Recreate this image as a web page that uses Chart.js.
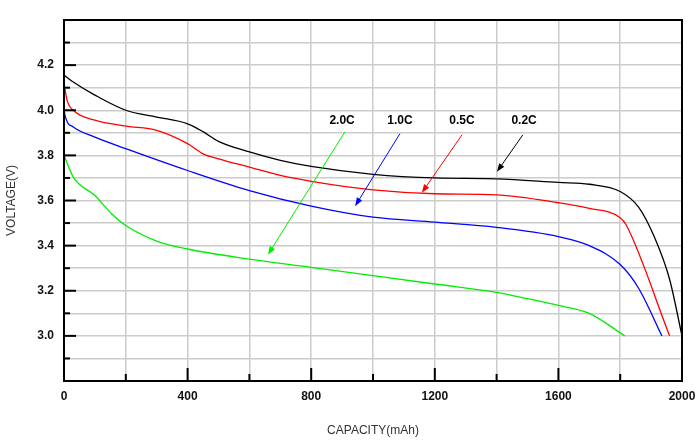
<!DOCTYPE html>
<html>
<head>
<meta charset="utf-8">
<script src="https://cdn.jsdelivr.net/npm/chart.js@4.4.1/dist/chart.umd.min.js"></script>
<style>
  html, body { margin: 0; padding: 0; background: #fff; }
  #wrap { width: 700px; height: 442px; }
</style>
</head>
<body>
<div id="wrap"><canvas id="dischargeChart"></canvas></div>
<script>
// discharge curves, capacity (mAh) vs voltage (V)
const cap02 = [0, 30, 100, 200, 300, 400, 450, 500, 600, 700, 800, 1000, 1200, 1400, 1600, 1700, 1800, 1860, 1910, 1960, 2000];
const volt02 = [4.156, 4.125, 4.067, 4.00, 3.97, 3.94, 3.905, 3.862, 3.815, 3.778, 3.751, 3.716, 3.70, 3.696, 3.68, 3.672, 3.64, 3.57, 3.44, 3.25, 3.0];

const cap05 = [0, 10, 30, 100, 200, 300, 400, 450, 500, 600, 700, 800, 1000, 1200, 1400, 1600, 1700, 1800, 1820, 1960];
const volt05 = [4.12, 4.044, 4.00, 3.956, 3.93, 3.911, 3.852, 3.807, 3.785, 3.748, 3.711, 3.685, 3.647, 3.63, 3.625, 3.59, 3.565, 3.524, 3.49, 3.0];

const cap10 = [0, 3, 30, 100, 200, 400, 600, 800, 1000, 1200, 1400, 1600, 1700, 1800, 1860, 1935];
const volt10 = [4.015, 3.978, 3.926, 3.881, 3.83, 3.733, 3.644, 3.575, 3.526, 3.504, 3.481, 3.44, 3.40, 3.316, 3.21, 3.0];

const cap20 = [0, 30, 100, 155, 200, 300, 400, 600, 800, 1000, 1200, 1400, 1500, 1600, 1700, 1815];
const volt20 = [3.80, 3.704, 3.622, 3.54, 3.489, 3.42, 3.385, 3.34, 3.304, 3.267, 3.23, 3.193, 3.165, 3.135, 3.10, 3.0];

// rate labels with arrow start / end in data units
const rateLabels = ["2.0C", "1.0C", "0.5C", "0.2C"];
const rateColors = ["#00ee00", "#0000ff", "#ff0000", "#000000"];
const labelPos = [[900, 3.953], [1087, 3.953], [1288, 3.953], [1489, 3.953]];
const arrowFrom = [[909, 3.904], [1087, 3.896], [1288, 3.891], [1485, 3.891]];
const arrowTo = [[660, 3.36], [942, 3.575], [1158, 3.634], [1401, 3.727]];

const xTicks = [0, 400, 800, 1200, 1600, 2000];
const yTicks = [3.0, 3.2, 3.4, 3.6, 3.8, 4.0, 4.2];

function toPoints(xs, ys) {
  return xs.map((x, i) => ({ x: x, y: ys[i] }));
}

const series = [
  { label: "0.2C", data: toPoints(cap02, volt02), borderColor: "#000000" },
  { label: "0.5C", data: toPoints(cap05, volt05), borderColor: "#ff0000" },
  { label: "1.0C", data: toPoints(cap10, volt10), borderColor: "#0000ff" },
  { label: "2.0C", data: toPoints(cap20, volt20), borderColor: "#00ee00" },
];

// frame, inward tick marks and arrows
const extras = {
  id: "extras",
  afterDatasetsDraw(chart) {
    const c = chart.ctx;
    const a = chart.chartArea;
    const xs = chart.scales.x;
    const ys = chart.scales.y;
    c.save();
    c.strokeStyle = "#000";
    c.lineWidth = 2;
    c.strokeRect(a.left, a.top, a.right - a.left, a.bottom - a.top);

    ys.ticks.forEach(t => {
      const py = ys.getPixelForValue(t.value);
      const big = yTicks.some(v => Math.abs(v - t.value) < 1e-6);
      c.beginPath();
      c.moveTo(a.left, py);
      c.lineTo(a.left + (big ? 12 : 6), py);
      c.stroke();
    });
    xs.ticks.forEach(t => {
      const px = xs.getPixelForValue(t.value);
      const big = xTicks.includes(Math.round(t.value));
      c.beginPath();
      c.moveTo(px, a.bottom);
      c.lineTo(px, a.bottom - (big ? 13 : 7));
      c.stroke();
    });

    c.font = "bold 12px 'Liberation Sans', Arial, sans-serif";
    c.textAlign = "center";
    c.textBaseline = "middle";
    rateLabels.forEach((lab, i) => {
      c.fillStyle = "#000";
      c.fillText(lab, xs.getPixelForValue(labelPos[i][0]), ys.getPixelForValue(labelPos[i][1]));
      const x1 = xs.getPixelForValue(arrowFrom[i][0]);
      const y1 = ys.getPixelForValue(arrowFrom[i][1]);
      const x2 = xs.getPixelForValue(arrowTo[i][0]);
      const y2 = ys.getPixelForValue(arrowTo[i][1]);
      const ang = Math.atan2(y2 - y1, x2 - x1);
      c.strokeStyle = rateColors[i];
      c.fillStyle = rateColors[i];
      c.lineWidth = 1;
      c.beginPath();
      c.moveTo(x1, y1);
      c.lineTo(x2 - 6 * Math.cos(ang), y2 - 6 * Math.sin(ang));
      c.stroke();
      c.beginPath();
      c.moveTo(x2, y2);
      c.lineTo(x2 - 9 * Math.cos(ang - 0.35), y2 - 9 * Math.sin(ang - 0.35));
      c.lineTo(x2 - 9 * Math.cos(ang + 0.35), y2 - 9 * Math.sin(ang + 0.35));
      c.closePath();
      c.fill();
    });
    c.restore();
  }
};

const ctx = document.getElementById("dischargeChart").getContext("2d");
const dischargeChart = new Chart(ctx, {
  type: "line",
  data: {
    datasets: series.map(s => ({
      label: s.label,
      data: s.data,
      borderColor: s.borderColor,
      borderWidth: 1.3,
      pointRadius: 0,
      fill: false,
      cubicInterpolationMode: "monotone",
    })),
  },
  options: {
    responsive: true,
    maintainAspectRatio: false,
    animation: false,
    layout: { padding: { top: 20, right: 18, left: 0, bottom: 0 } },
    plugins: {
      legend: { display: false },
      tooltip: { enabled: false },
    },
    scales: {
      x: {
        type: "linear",
        min: 0,
        max: 2000,
        afterFit(scale) {
          scale.height = 61;
          scale.paddingRight = 0;
          scale.paddingLeft = 0;
        },
        ticks: {
          stepSize: 200,
          autoSkip: false,
          maxRotation: 0,
          padding: 8,
          color: "#111",
          font: { family: "'Liberation Sans', Arial, sans-serif", size: 12, weight: "bold" },
          callback: v => (xTicks.includes(Math.round(v)) ? String(Math.round(v)) : ""),
        },
        grid: { color: "#cccccc", lineWidth: 1.5, drawTicks: false },
        border: { display: false },
        title: {
          display: true,
          text: "CAPACITY(mAh)",
          color: "#333",
          font: { family: "'Liberation Sans', Arial, sans-serif", size: 12 },
          padding: { top: 6 },
        },
      },
      y: {
        min: 2.8,
        max: 4.4,
        afterFit(scale) { scale.width = 64; },
        ticks: {
          stepSize: 0.1,
          autoSkip: false,
          padding: 10,
          color: "#111",
          font: { family: "'Liberation Sans', Arial, sans-serif", size: 12, weight: "bold" },
          callback: v => (yTicks.some(t => Math.abs(t - v) < 1e-6) ? v.toFixed(1) : ""),
        },
        grid: { color: "#cccccc", lineWidth: 1.5, drawTicks: false },
        border: { display: false },
        title: {
          display: true,
          text: "VOLTAGE(V)",
          color: "#333",
          font: { family: "'Liberation Sans', Arial, sans-serif", size: 12 },
          padding: { bottom: 0 },
        },
      },
    },
  },
  plugins: [extras],
});
</script>
</body>
</html>
